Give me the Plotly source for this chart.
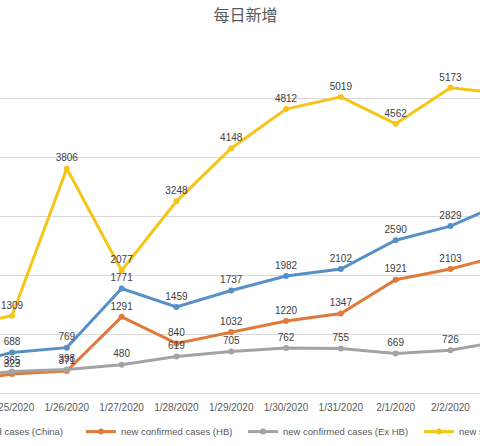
import plotly.graph_objects as go

dates = ["1/24/2020", "1/25/2020", "1/26/2020", "1/27/2020", "1/28/2020", "1/29/2020",
         "1/30/2020", "1/31/2020", "2/1/2020", "2/2/2020", "2/3/2020"]
china = [444, 688, 769, 1771, 1459, 1737, 1982, 2102, 2590, 2829, 3235]
hb = [180, 323, 371, 1291, 840, 1032, 1220, 1347, 1921, 2103, 2345]
ex_hb = [264, 365, 398, 480, 619, 705, 762, 755, 669, 726, 890]
suspected = [1118, 1309, 3806, 2077, 3248, 4148, 4812, 5019, 4562, 5173, 5072]

series = [
    ("new confirmed cases (China)", china, "#5790c6", "legend"),
    ("new confirmed cases (HB)", hb, "#e07a3c", "legend2"),
    ("new confirmed cases (Ex HB)", ex_hb, "#a3a3a3", "legend3"),
    ("new suspected cases", suspected, "#f5c518", "legend4"),
]

fig = go.Figure()
for name, vals, col, lg in series:
    fig.add_trace(go.Scatter(
        x=dates, y=vals, name=name, mode="lines+markers+text",
        line=dict(color=col, width=3),
        marker=dict(color=col, size=6),
        text=[str(v) for v in vals], textposition="top center",
        textfont=dict(family="Liberation Sans, Arial, sans-serif", size=10, color="#404040"),
        cliponaxis=True, legend=lg,
    ))

legend_font = dict(family="Liberation Sans, Arial, sans-serif", size=9.5, color="#595959")
leg_y = -0.109

def leg(px):
    return dict(orientation="h", x=px / 480, xanchor="left", y=leg_y, yanchor="middle",
                font=legend_font, bgcolor="rgba(0,0,0,0)", borderwidth=0)

fig.update_layout(
    width=480, height=446,
    margin=dict(l=0, r=0, t=39, b=53, autoexpand=False),
    paper_bgcolor="white", plot_bgcolor="white",
    title=dict(text="每日新增", x=245.6 / 480, xanchor="center", y=1 - 15 / 446, yanchor="middle",
               font=dict(family="Noto Sans CJK SC", size=16, color="#595959")),
    font=dict(family="Liberation Sans, Arial, sans-serif", size=10, color="#595959"),
    showlegend=True,
    legend=leg(-100), legend2=leg(81), legend3=leg(243), legend4=leg(419),
    xaxis=dict(type="category", range=[0.781, 9.539], showgrid=False,
               showline=True, linecolor="#d9d9d9", linewidth=1, ticks="",
               ticklabelstandoff=5,
               tickfont=dict(size=10, color="#595959")),
    yaxis=dict(range=[0, 6000], dtick=1000, showgrid=True, gridcolor="#d9d9d9",
               gridwidth=1, showticklabels=False, zeroline=False, ticks=""),
)

fig.write_html("out.html", config={"displayModeBar": False},
               post_script="document.body.style.margin='0';")
